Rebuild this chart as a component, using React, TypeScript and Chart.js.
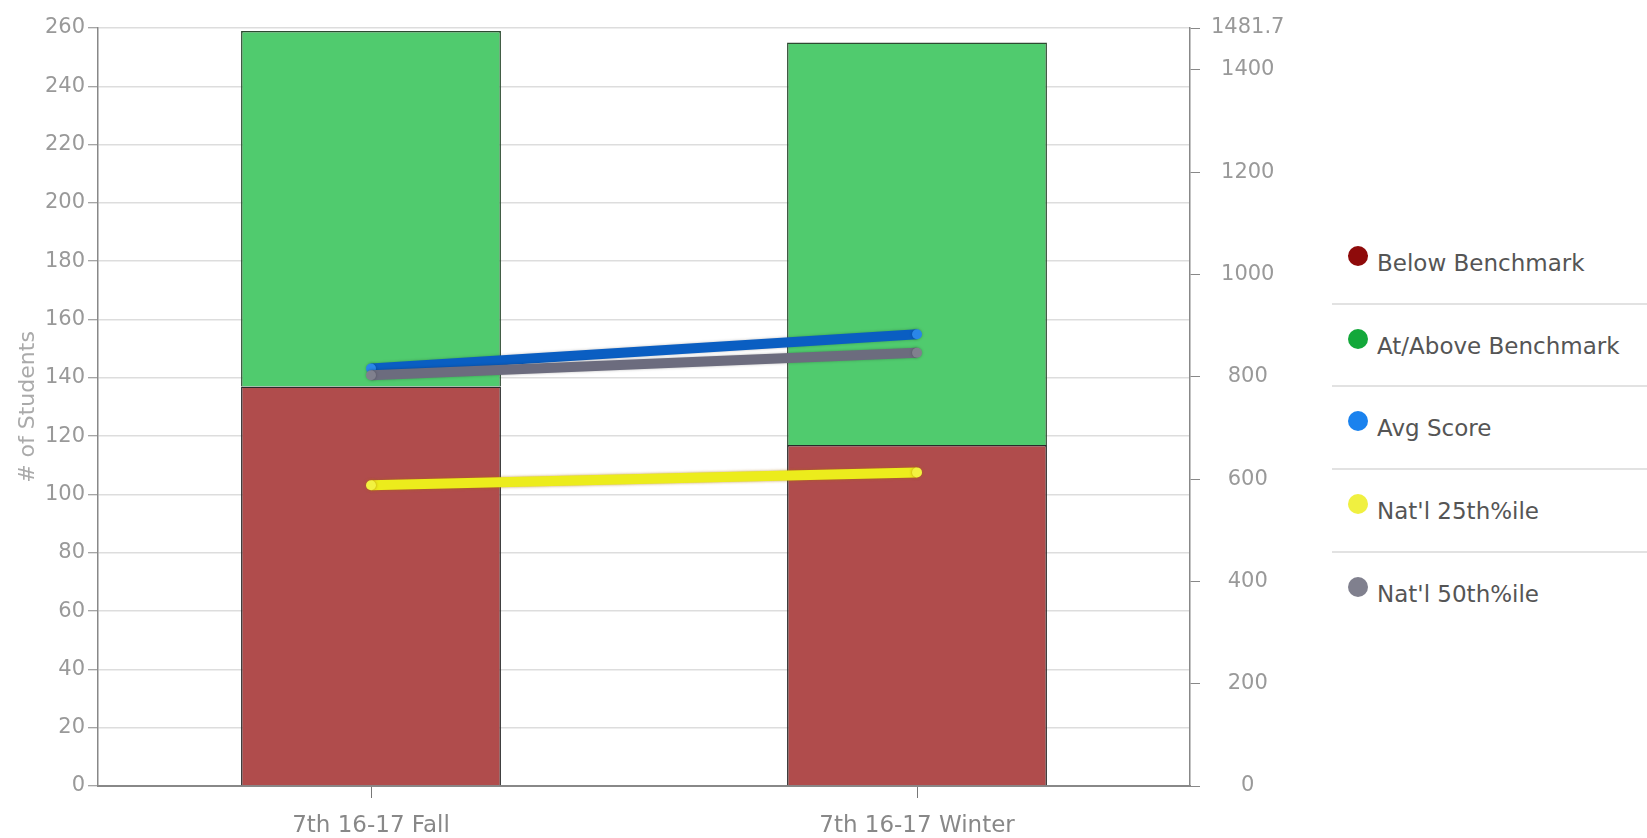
import React, { useEffect, useRef } from "react";
import { Chart, registerables } from "chart.js";

Chart.register(...registerables);

const CATEGORIES = ["7th 16-17 Fall", "7th 16-17 Winter"];
const BELOW_BENCHMARK = [137, 117];
const AT_ABOVE_BENCHMARK = [122, 138];
const AVG_SCORE = [816, 883];
const NATL_25TH = [588, 613];
const NATL_50TH = [803, 847];
const LEFT_MAX = 260;
const LEFT_STEP = 20;
const RIGHT_TICKS = [0, 200, 400, 600, 800, 1000, 1200, 1400, 1481.7];
const SERIES_LABELS = [
  "Below Benchmark",
  "At/Above Benchmark",
  "Avg Score",
  "Nat'l 25th%ile",
  "Nat'l 50th%ile",
];
const LEGEND_COLORS = ["#8e0a0a", "#13a83a", "#1a82ee", "#f0f040", "#80808e"];

const FONT = "'DejaVu Sans', sans-serif";

const lineShadow = {
  id: "lineShadow",
  beforeDatasetDraw(chart: any, args: any) {
    if (args.meta.type === "line") {
      const ctx = chart.ctx;
      ctx.save();
      ctx.shadowColor = args.index === 3 ? "rgba(170,110,0,0.7)" : "rgba(0,0,0,0.25)";
      ctx.shadowBlur = 3;
    }
  },
  afterDatasetDraw(chart: any, args: any) {
    if (args.meta.type === "line") {
      chart.ctx.restore();
    }
  },
};

export default function App() {
  const canvasRef = useRef<HTMLCanvasElement | null>(null);

  useEffect(() => {
    if (!canvasRef.current) return;
    const rightMax = RIGHT_TICKS[RIGHT_TICKS.length - 1];
    const chart = new Chart(canvasRef.current, {
      type: "bar",
      plugins: [lineShadow],
      data: {
        labels: CATEGORIES,
        datasets: [
          {
            type: "bar",
            label: SERIES_LABELS[0],
            data: BELOW_BENCHMARK,
            backgroundColor: "#b04c4c",
            borderColor: "#2a2a2a",
            borderWidth: 1.5,
            yAxisID: "y",
            stack: "s",
            order: 5,
            barPercentage: 0.476,
            categoryPercentage: 1,
          },
          {
            type: "bar",
            label: SERIES_LABELS[1],
            data: AT_ABOVE_BENCHMARK,
            backgroundColor: "#50cb6e",
            borderColor: "#2c4a30",
            borderWidth: 1.5,
            yAxisID: "y",
            stack: "s",
            order: 5,
            barPercentage: 0.476,
            categoryPercentage: 1,
          },
          {
            type: "line",
            label: SERIES_LABELS[2],
            data: AVG_SCORE,
            borderColor: "#0a5ec2",
            backgroundColor: "#2a86e8",
            borderWidth: 10,
            pointRadius: 5,
            pointBorderWidth: 0,
            yAxisID: "y1",
            order: 2,
          },
          {
            type: "line",
            label: SERIES_LABELS[3],
            data: NATL_25TH,
            borderColor: "#ecec1c",
            backgroundColor: "#f2f240",
            borderWidth: 10,
            pointRadius: 5,
            pointBorderWidth: 0,
            yAxisID: "y1",
            order: 3,
          },
          {
            type: "line",
            label: SERIES_LABELS[4],
            data: NATL_50TH,
            borderColor: "#6c6c7e",
            backgroundColor: "#80808e",
            borderWidth: 10,
            pointRadius: 5,
            pointBorderWidth: 0,
            yAxisID: "y1",
            order: 1,
          },
        ],
      },
      options: {
        animation: false,
        responsive: false,
        maintainAspectRatio: false,
        layout: { padding: { top: 28, left: 0, right: 0, bottom: 0 } },
        plugins: {
          legend: { display: false },
          tooltip: { enabled: false },
        },
        scales: {
          x: {
            stacked: true,
            offset: true,
            grid: {
              offset: false,
              drawOnChartArea: false,
              drawTicks: true,
              tickLength: 12,
              tickColor: "#777",
              tickWidth: 1,
            },
            border: { display: true, color: "#888", width: 2 },
            ticks: {
              color: "#888",
              font: { family: FONT, size: 23 },
              padding: 14,
            },
            afterFit: (s: any) => {
              s.height = 52;
            },
          },
          y: {
            type: "linear",
            position: "left",
            stacked: true,
            min: 0,
            max: LEFT_MAX,
            ticks: {
              stepSize: LEFT_STEP,
              color: "#999",
              font: { family: FONT, size: 21 },
              padding: 3,
            },
            grid: {
              color: "#dddddd",
              lineWidth: 1.5,
              tickLength: 10,
              tickColor: "#888",
              tickWidth: 1,
            },
            border: { display: true, color: "#888", width: 1.5 },
            title: {
              display: true,
              text: "# of Students",
              color: "#aaa",
              font: { family: FONT, size: 22 },
              padding: { top: 15, bottom: 2 },
            },
            afterFit: (s: any) => {
              s.width = 98;
            },
          },
          y1: {
            type: "linear",
            position: "right",
            min: 0,
            max: rightMax,
            afterBuildTicks: (s: any) => {
              s.ticks = RIGHT_TICKS.map((v) => ({ value: v }));
            },
            ticks: {
              color: "#999",
              font: { family: FONT, size: 21 },
              padding: 11,
              crossAlign: "center",
              callback: (v: any) => String(v),
            },
            grid: {
              drawOnChartArea: false,
              tickLength: 10,
              tickColor: "#888",
              tickWidth: 1,
            },
            border: { display: true, color: "#888", width: 1.5 },
            afterFit: (s: any) => {
              s.width = 110;
            },
          },
        },
      },
    });
    return () => chart.destroy();
  }, []);

  const rowTop = 222;
  const rowH = 82.7;

  return (
    <div
      style={{
        position: "fixed",
        left: 0,
        top: 0,
        width: 1647,
        height: 838,
        background: "#fff",
        overflow: "hidden",
      }}
    >
      <canvas
        ref={canvasRef}
        width={1300}
        height={838}
        style={{ position: "absolute", left: 0, top: 0, width: 1300, height: 838 }}
      />
      <div style={{ position: "absolute", left: 1332, top: rowTop, width: 315 }}>
        {SERIES_LABELS.map((label, i) => (
          <div
            key={label}
            style={{
              position: "relative",
              height: rowH,
              borderBottom: i < SERIES_LABELS.length - 1 ? "2px solid #e2e2e2" : "none",
              boxSizing: "border-box",
            }}
          >
            <span
              style={{
                position: "absolute",
                left: 16,
                top: 24,
                width: 20,
                height: 20,
                borderRadius: "50%",
                background: LEGEND_COLORS[i],
              }}
            />
            <span
              style={{
                position: "absolute",
                left: 45,
                top: 28,
                fontFamily: FONT,
                fontSize: 23,
                lineHeight: "27px",
                color: "#555",
                whiteSpace: "nowrap",
              }}
            >
              {label}
            </span>
          </div>
        ))}
      </div>
    </div>
  );
}
